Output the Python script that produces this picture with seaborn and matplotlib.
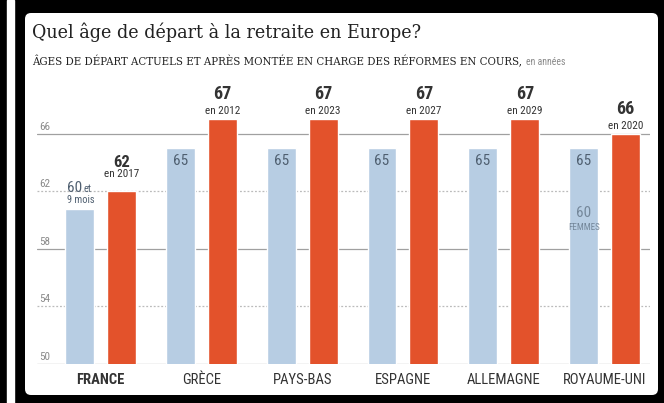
import matplotlib
matplotlib.use('Agg')
import matplotlib.pyplot as plt
import matplotlib.transforms as mtransforms
from matplotlib import font_manager
from matplotlib.patches import FancyBboxPatch, Rectangle
import seaborn as sns
import pandas as pd

# donnees
pays = ['FRANCE', 'GRÈCE', 'PAYS-BAS', 'ESPAGNE', 'ALLEMAGNE', 'ROYAUME-UNI']
age_actuel = [60.75, 65, 65, 65, 65, 65]
age_reforme = [62, 67, 67, 67, 67, 66]
annee_reforme = ['2017', '2012', '2023', '2027', '2029', '2020']
age_femmes_uk = 60
yticks = [50, 54, 58, 62, 66]

BLUE = '#b7cde3'
ORANGE = '#e3522b'
DARK = '#333333'
BLUE_TXT = '#4f5f70'

names = {f.name for f in font_manager.fontManager.ttflist}
def pick(cands, default):
    return next((c for c in cands if c in names), default)

SANS = pick(['Roboto Condensed', 'Liberation Sans Narrow', 'Open Sans Condensed'], 'DejaVu Sans')
SERIF = pick(['Roboto Slab'], 'DejaVu Serif')

df = pd.DataFrame({
    'pays': pays * 2,
    'age': age_actuel + age_reforme,
    'type': ['actuel'] * len(pays) + ['reforme'] * len(pays),
})

sns.set_style('white')
plt.rcParams['font.family'] = [SANS, 'DejaVu Sans']
plt.rcParams['font.stretch'] = 'condensed'

fig = plt.figure(figsize=(6.64, 4.03), dpi=100, facecolor='black')
ident = mtransforms.IdentityTransform()
fig.patches.append(Rectangle((7, 0), 7, 403, transform=ident, color='white', zorder=-10))
fig.patches.append(FancyBboxPatch((25, 8), 633, 382, boxstyle='round,pad=0,rounding_size=6',
                                  transform=ident, facecolor='white', edgecolor='none', zorder=-10))

ax = fig.add_axes([37 / 664, 39 / 403, 613 / 664, 266.4 / 403])
ax.set_facecolor('none')

sns.barplot(data=df, x='pays', y='age', hue='type', palette=[BLUE, ORANGE], saturation=1,
            width=0.833, gap=0.31, legend=False, ax=ax, zorder=2)

ax.set_ylim(50, 68.5)
ax.set_xlim(-0.63, 5.45)
for s in ax.spines.values():
    s.set_visible(False)
ax.set_yticks([])
ax.set_xlabel('')
ax.set_ylabel('')
ax.tick_params(axis='x', length=0, pad=6.5)
ax.set_xticks(range(len(pays)))
ax.set_xticklabels(pays, fontsize=10.5, color=DARK)
ax.get_xticklabels()[0].set_fontweight('bold')

# grille
for t in yticks:
    if t in (54, 62):
        ax.axhline(t, color='#bbbbbb', lw=0.9, ls=(0, (1.5, 1.5)), zorder=0)
    else:
        ax.axhline(t, color='#a0a0a0', lw=0.9, zorder=0)
    ax.annotate(str(t), (0, t), xycoords=ax.get_yaxis_transform(), xytext=(2, 4),
                textcoords='offset pixels', ha='left', va='baseline', fontsize=8, color='#8a8a8a')

# etiquettes barres orange
for i, bar in enumerate(ax.containers[1]):
    cx = bar.get_x() + bar.get_width() / 2
    top = bar.get_height()
    off_en, off_num, size = (14, 24, 12) if i == 0 else (5, 20, 13)
    ax.annotate(f'en {annee_reforme[i]}', (cx, top), xytext=(0, off_en), textcoords='offset pixels',
                ha='center', va='baseline', fontsize=8, color=DARK)
    ax.annotate(f'{age_reforme[i]:g}', (cx, top), xytext=(0, off_num), textcoords='offset pixels',
                ha='center', va='baseline', fontsize=size, fontweight='bold', color=DARK)

# etiquettes barres bleues
for i, bar in enumerate(ax.containers[0]):
    cx = bar.get_x() + bar.get_width() / 2
    top = bar.get_height()
    if i == 0:
        x0 = bar.get_x()
        ax.annotate('60', (x0, top), xytext=(2, 17), textcoords='offset pixels',
                    ha='left', va='baseline', fontsize=11, color=BLUE_TXT)
        ax.annotate('et', (x0, top), xytext=(18, 17), textcoords='offset pixels',
                    ha='left', va='baseline', fontsize=7.5, color=BLUE_TXT)
        ax.annotate('9 mois', (x0, top), xytext=(2, 6), textcoords='offset pixels',
                    ha='left', va='baseline', fontsize=7.5, color=BLUE_TXT)
    else:
        ax.annotate(f'{age_actuel[i]:g}', (cx, top), xytext=(0, -6), textcoords='offset pixels',
                    ha='center', va='top', fontsize=11, color=BLUE_TXT)

# royaume-uni : age des femmes
uk = ax.containers[0][-1]
cx = uk.get_x() + uk.get_width() / 2
ax.annotate(str(age_femmes_uk), (cx, age_femmes_uk), xytext=(0, 3), textcoords='offset pixels',
            ha='center', va='baseline', fontsize=11, color='#74879a')
ax.annotate('FEMMES', (cx, age_femmes_uk), xytext=(0, -3), textcoords='offset pixels',
            ha='center', va='top', fontsize=6.5, color='#74879a')

# titres
fig.text(32 / 664, 1 - 38 / 403, 'Quel âge de départ à la retraite en Europe?', family=[SERIF, 'DejaVu Sans'],
         fontstretch='condensed', fontsize=14, color='#222222', va='baseline')
sub = fig.text(32 / 664, 1 - 65 / 403,
               'ÂGES DE DÉPART ACTUELS ET APRÈS MONTÉE EN CHARGE DES RÉFORMES EN COURS,',
               family=[SERIF, 'DejaVu Sans'], fontstretch='condensed', fontsize=8.2, color='#222222',
               va='baseline')
fig.canvas.draw()
bb = sub.get_window_extent()
fig.text((bb.x1 + 4) / 664, 1 - 65 / 403, 'en années', fontsize=7, color='#8a8a8a', va='baseline')

fig.savefig('out.png', dpi=100, facecolor='black')
